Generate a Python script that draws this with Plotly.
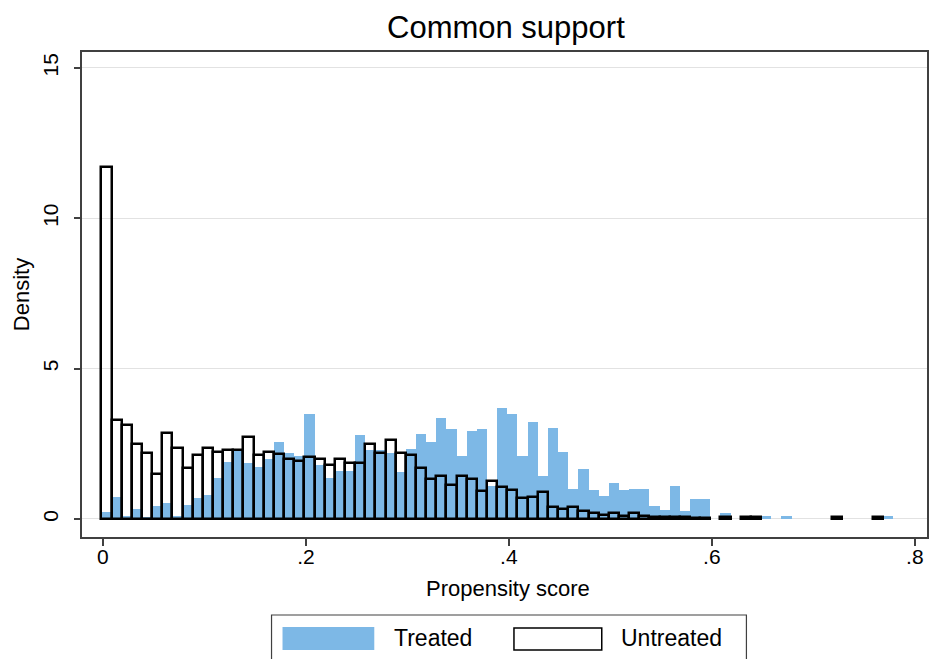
import plotly.graph_objects as go

# Histogram densities of the estimated propensity score, bin width 0.01
bin_width = 0.01
bin_origin = -0.0015

treated = [
    0.22, 0.73, 0.10, 0.33, 0.05, 0.43, 0.54, 0.10, 0.45, 0.69,
    0.80, 1.35, 1.90, 2.25, 1.85, 1.74, 2.00, 2.57, 2.18, 2.08,
    3.49, 1.78, 1.35, 1.60, 1.60, 2.79, 2.30, 2.29, 2.18, 1.55,
    2.33, 2.81, 2.57, 3.37, 3.00, 2.08, 2.92, 3.00, 1.10, 3.68,
    3.49, 2.10, 3.24, 1.42, 3.02, 2.24, 0.98, 1.65, 0.97, 0.75,
    1.21, 0.97, 0.98, 0.98, 0.42, 0.29, 1.08, 0.28, 0.66, 0.66,
    0.00, 0.19, 0.00, 0.05, 0.05, 0.10, 0.00, 0.10, 0.00, 0.00,
    0.00, 0.00, 0.00, 0.00, 0.00, 0.00, 0.00, 0.09, 0.00,
]

untreated = [
    11.70, 3.29, 3.11, 2.50, 2.20, 1.51, 2.86, 2.36, 1.69, 2.12,
    2.35, 2.24, 2.29, 2.29, 2.73, 2.12, 2.24, 2.17, 1.99, 1.94,
    2.05, 2.00, 1.81, 1.98, 1.86, 1.87, 2.49, 2.18, 2.63, 2.18,
    2.13, 1.68, 1.32, 1.44, 1.13, 1.44, 1.32, 0.94, 1.26, 1.07,
    0.97, 0.69, 0.74, 0.90, 0.40, 0.34, 0.40, 0.28, 0.20, 0.13,
    0.21, 0.10, 0.21, 0.10, 0.07, 0.07, 0.05, 0.05, 0.04, 0.04,
    0.00, 0.08, 0.00, 0.06, 0.06, 0.00, 0.00, 0.00, 0.00, 0.00,
    0.00, 0.00, 0.06, 0.00, 0.00, 0.00, 0.06, 0.00, 0.00,
]

x_ticks = [0, 0.2, 0.4, 0.6, 0.8]
x_tick_labels = ["0", ".2", ".4", ".6", ".8"]
y_ticks = [0, 5, 10, 15]
y_tick_labels = ["0", "5", "10", "15"]

centers = [bin_origin + bin_width * (i + 0.5) for i in range(len(treated))]

# Zero-density bins are left empty so no outline is drawn for them
def nonzero(vals):
    return [v if v > 0 else None for v in vals]

FONT = "Liberation Sans, Arial, sans-serif"
BLUE = "#7db8e6"

fig = go.Figure()
fig.add_trace(go.Bar(
    x=centers, y=nonzero(treated), width=bin_width,
    marker=dict(color=BLUE, line=dict(width=0)),
    name="Treated", showlegend=False,
))
fig.add_trace(go.Bar(
    x=centers, y=nonzero(untreated), width=bin_width,
    marker=dict(color="rgba(0,0,0,0)", line=dict(color="black", width=2.5)),
    name="Untreated", showlegend=False,
))

fig.update_layout(
    width=932, height=659,
    margin=dict(l=82, r=3, t=52, b=122),
    paper_bgcolor="white", plot_bgcolor="white",
    barmode="overlay", bargap=0,
    font=dict(family=FONT, size=21, color="black"),
)

fig.update_xaxes(
    range=[-0.0206, 0.812],
    tickvals=x_ticks, ticktext=x_tick_labels,
    ticks="outside", ticklen=7, tickcolor="#404040", tickwidth=1.5,
    ticklabelstandoff=-7,
    showline=True, linecolor="#404040", linewidth=1.5, mirror=True,
    showgrid=False, zeroline=False,
    tickfont=dict(size=21),
)
fig.update_yaxes(
    range=[-0.6, 15.53],
    tickvals=y_ticks, ticktext=y_tick_labels, tickangle=-90,
    ticks="outside", ticklen=6, tickcolor="#404040", tickwidth=1.5,
    ticklabelstandoff=8,
    showline=True, linecolor="#404040", linewidth=1.5, mirror=True,
    showgrid=True, gridcolor="#e2e2e2", gridwidth=1, zeroline=False,
    tickfont=dict(size=21),
)

annotations = [
    dict(text="Common support", x=0.5018, y=1.0495, xref="paper", yref="paper",
         xanchor="center", yanchor="middle", showarrow=False,
         font=dict(size=31, family=FONT, color="black")),
    dict(text="Propensity score", x=0.504, y=-0.107, xref="paper", yref="paper",
         xanchor="center", yanchor="middle", showarrow=False,
         font=dict(size=22, family=FONT, color="black")),
    dict(text="Density", x=-0.0708, y=0.499, xref="paper", yref="paper",
         xanchor="center", yanchor="middle", showarrow=False, textangle=-90,
         font=dict(size=22, family=FONT, color="black")),
    dict(text="Treated", x=0.3672, y=-0.2082, xref="paper", yref="paper",
         xanchor="left", yanchor="middle", showarrow=False,
         font=dict(size=23, family=FONT, color="black")),
    dict(text="Untreated", x=0.6352, y=-0.2082, xref="paper", yref="paper",
         xanchor="left", yanchor="middle", showarrow=False,
         font=dict(size=23, family=FONT, color="black")),
]

# Legend frame and key swatches below the plot
shapes = [
    dict(type="rect", xref="paper", yref="paper",
         x0=0.2243, x1=0.7863, y0=-0.1608, y1=-0.30,
         line=dict(color="#404040", width=1.2), fillcolor="white", layer="below"),
    dict(type="rect", xref="paper", yref="paper",
         x0=0.2373, x1=0.3459, y0=-0.1856, y1=-0.2330,
         line=dict(width=0), fillcolor=BLUE),
    dict(type="rect", xref="paper", yref="paper",
         x0=0.5112, x1=0.6151, y0=-0.1876, y1=-0.2330,
         line=dict(color="black", width=1.5), fillcolor="white"),
]

fig.update_layout(annotations=annotations, shapes=shapes)

fig.write_html("out.html")
